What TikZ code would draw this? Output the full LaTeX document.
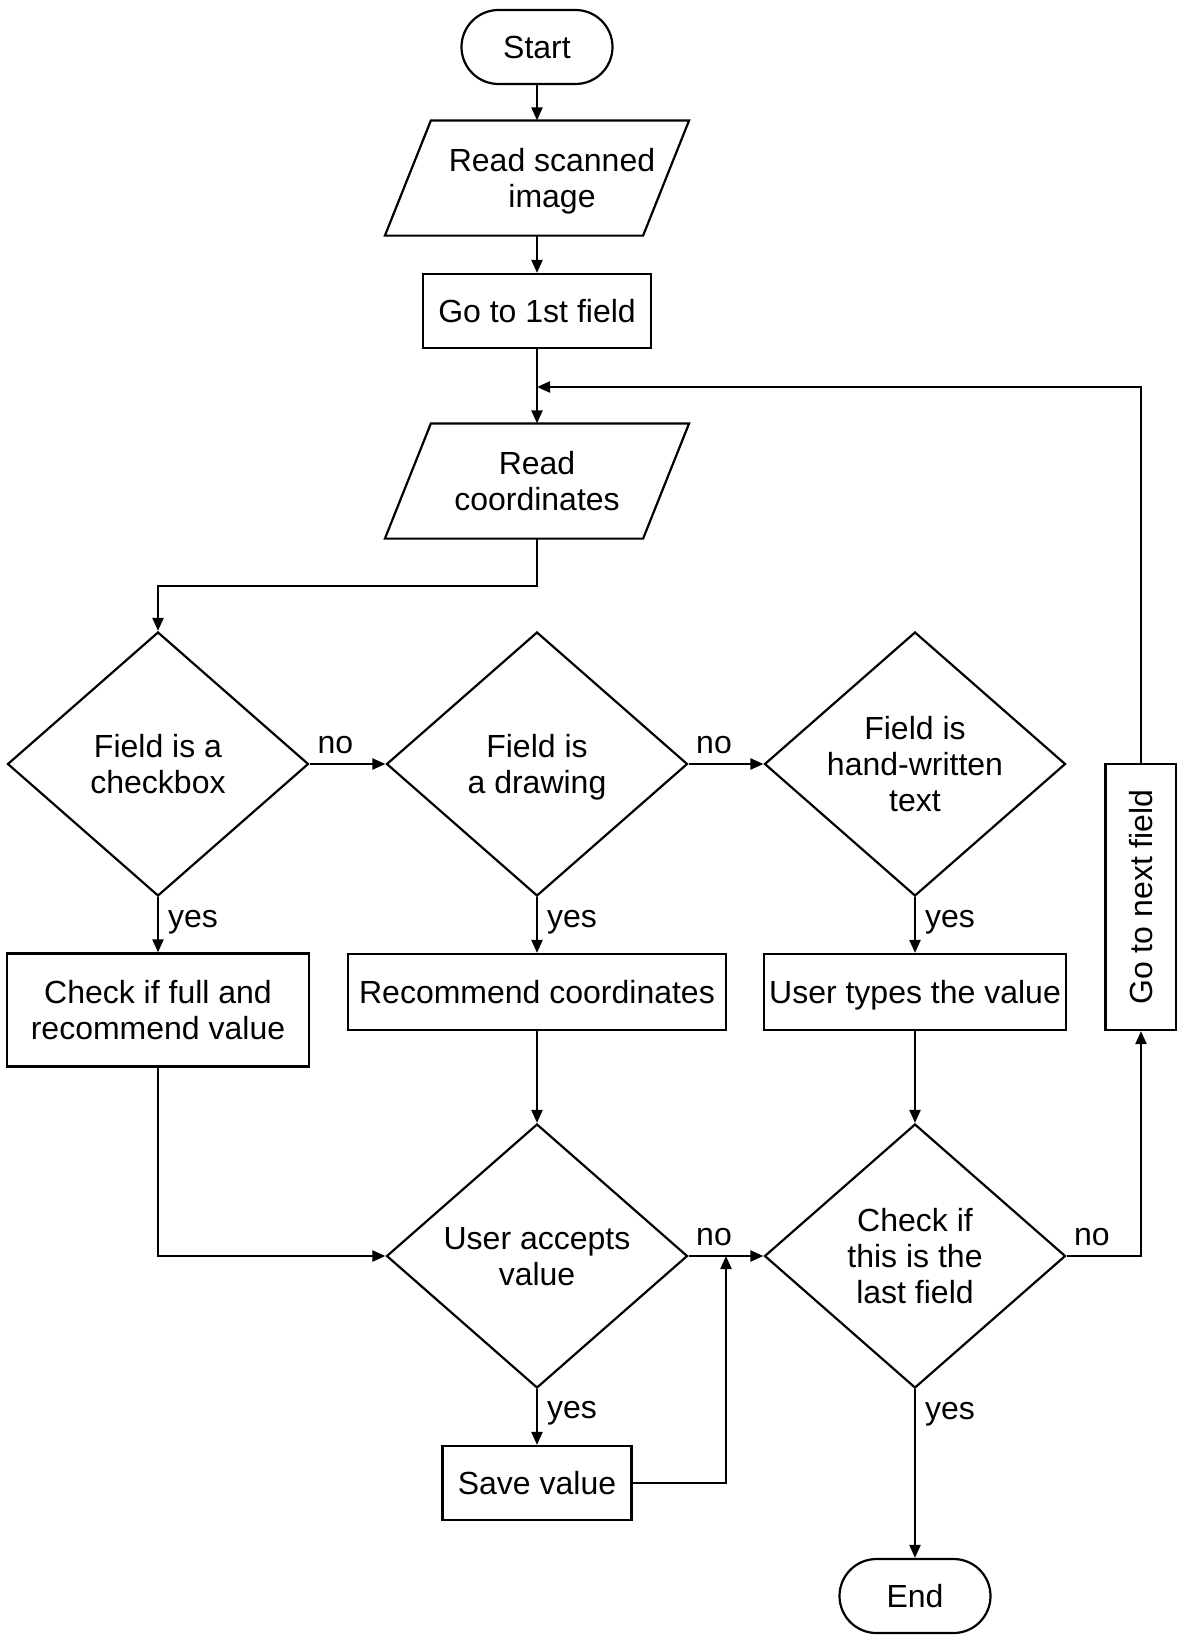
\documentclass[tikz,border=0pt]{standalone}
\usepackage{fontspec}
\setmainfont{Liberation Sans}
\usepackage{graphicx}
\usepackage{tikz}
\usetikzlibrary{shapes.geometric, positioning, arrows.meta, calc}

\begin{document}
\begin{tikzpicture}[->, >={Triangle[length=13pt, width=11pt]}, line width=2.2pt, on grid,
    every node/.style={font=\fontsize{32}{36}\selectfont, align=center},
    term/.style={draw, rectangle, rounded corners=37pt, minimum width=151pt, minimum height=74pt},
    io/.style={rectangle, minimum width=302pt, minimum height=113pt, inner sep=0pt, text depth=0pt},
    box/.style={draw, rectangle, inner sep=4pt, text depth=0pt},
    decision/.style={draw, diamond, aspect=1.14, minimum width=301pt, minimum height=264pt,
      inner sep=0pt, text depth=0pt},
    lbl/.style={inner sep=9pt}]
      \useasboundingbox (0,0) rectangle (1176pt,-1641pt);
      \node[term] (start) at (537pt,-47pt) {Start};
      \node[io, below=131pt of start] (read) {\hspace*{30pt}Read scanned\\\hspace*{30pt}image};
      \node[box, below=133pt of read, minimum width=228pt, minimum height=74pt] (first) {Go to 1st field};
      \coordinate[below=76pt of first] (join);
      \node[io, below=170pt of first] (coord) {Read\\coordinates};
      \node[decision, below=283pt of coord] (d2) {Field is\\a drawing};
      \node[decision, left=379pt of d2] (d1) {Field is a\\checkbox};
      \node[decision, right=378pt of d2] (d3) {Field is\\hand-written\\text};
      \node[box, below=246pt of d1, minimum width=302pt, minimum height=113pt] (chk) {Check if full and\\recommend value};
      \node[box, below=228pt of d2, minimum width=378pt, minimum height=76pt] (rec) {Recommend coordinates};
      \node[box, below=228pt of d3, minimum width=302pt, minimum height=76pt] (usr) {User types the value};
      \node[box, right=226pt of d3, yshift=-133pt, minimum width=71pt, minimum height=266pt] (next) {\rotatebox{90}{Go to next field}};
      \node[decision, below=492pt of d2] (d4) {User accepts\\value};
      \node[decision, below=492pt of d3] (d5) {Check if\\this is the\\last field};
      \node[box, below=227pt of d4, minimum width=189pt, minimum height=74pt] (save) {Save value};
      \node[term, below=340pt of d5] (end) {End};
      \coordinate (jn2) at ($(d4.east)!0.5!(d5.west)$);
      % parallelograms for the input steps
      \foreach \n in {read, coord}
        \draw[-, line join=miter] ($(\n.north west)+(46pt,0)$) -- (\n.north east)
          -- ($(\n.south east)-(46pt,0)$) -- (\n.south west) -- cycle;
      % main line
      \draw (start) -- (read);
      \draw (read) -- (first);
      \draw (first) -- (coord);
      \draw (coord.south) -- ++(0,-47pt) -| (d1.north);
      % decisions on the field type
      \draw (d1.east) -- node[lbl, above, pos=0.34] {no} (d2.west);
      \draw (d2.east) -- node[lbl, above, pos=0.34] {no} (d3.west);
      \draw (d1.south) -- node[lbl, right, pos=0.45] {yes} (chk.north);
      \draw (d2.south) -- node[lbl, right, pos=0.45] {yes} (rec.north);
      \draw (d3.south) -- node[lbl, right, pos=0.45] {yes} (usr.north);
      \draw (chk.south) |- (d4.west);
      \draw (rec.south) -- (d4.north);
      \draw (usr.south) -- (d5.north);
      % accept and save
      \draw (d4.east) -- node[lbl, above, pos=0.34] {no} (d5.west);
      \draw (d4.south) -- node[lbl, right, pos=0.44] {yes} (save.north);
      \draw (save.east) -| (jn2);
      % last field or loop back
      \draw (d5.east) -| node[lbl, above, pos=0.17] {no} (next.south);
      \draw (next.north) |- (join);
      \draw (d5.south) -- node[lbl, right, pos=0.15] {yes} (end.north);
\end{tikzpicture}
\end{document}
